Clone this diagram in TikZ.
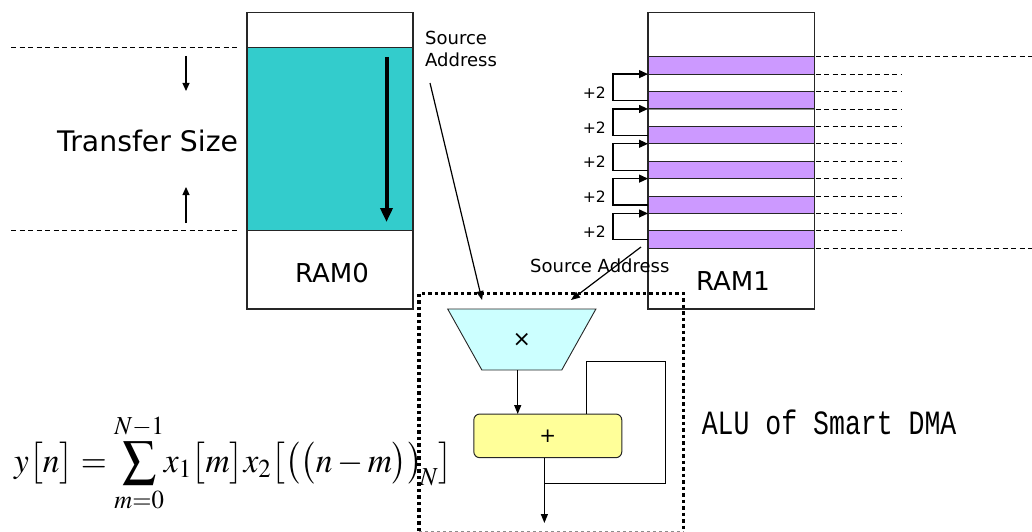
\documentclass[tikz,border=0pt]{standalone}
\usepackage{mathptmx}
\usepackage[no-math]{fontspec}
\setmainfont{DejaVu Sans}
\newfontfamily\alufont{Liberation Mono}
\usetikzlibrary{arrows.meta,shapes.geometric}
\definecolor{ramteal}{HTML}{33CCCC}
\definecolor{rampurple}{HTML}{CC99FF}
\definecolor{mulcyan}{HTML}{CCFFFF}
\definecolor{addyellow}{HTML}{FFFF99}
\begin{document}
\begin{tikzpicture}[x=1pt,y=-1pt,
  arr/.style={-{Triangle[length=9pt,width=7pt]}, line width=1.2pt},
  smallarr/.style={-{Triangle[length=8pt,width=7pt]}, line width=1.2pt},
  ramframe/.style={draw=black!85, line width=1.5pt},
  guide/.style={dash pattern=on 5pt off 3.5pt, line width=0.9pt},
  lbl/.style={inner sep=0pt, font=\fontsize{18}{21}\selectfont},
  plus/.style={inner sep=0pt, anchor=base east, font=\fontsize{15.6}{18}\selectfont},
  ramlbl/.style={inner sep=0pt, anchor=base, font=\fontsize{26}{30}\selectfont},
  alubox/.style={line width=3.5pt, dash pattern=on 3.5pt off 3pt}]
\path[use as bounding box] (0,0) rectangle (1032,532);

% ---------- RAM0 ----------
\fill[white] (247,12.7) rectangle (413,309);
\draw[black!85, line width=1pt, fill=ramteal] (247,47.5) rectangle (413,230.5);
\draw[ramframe] (247,12.7) rectangle (413,309);
\node[ramlbl] (ram0) at (332,282) {RAM0};
\coordinate (t0) at (386.5,57);
\coordinate (t1) at (386.5,222);
\draw[-{Triangle[length=14pt,width=12pt]}, line width=4pt] (t0) -- (t1);

% transfer size guides
\coordinate (g1a) at (11,47.5); \coordinate (g1b) at (240,47.5);
\coordinate (g2a) at (11,230.5); \coordinate (g2b) at (240,230.5);
\draw[guide] (g1a) -- (g1b);
\draw[guide] (g2a) -- (g2b);
\node[inner sep=0pt, anchor=base west, font=\fontsize{28.3}{31}\selectfont] (ts) at (57,151) {Transfer Size};
\coordinate (d0) at (186,56); \coordinate (d1) at (186,91);
\coordinate (u0) at (186,223); \coordinate (u1) at (186,187);
\draw[smallarr] (d0) -- (d1);
\draw[smallarr] (u0) -- (u1);

% ---------- RAM1 ----------
\fill[white] (648,12.7) rectangle (814.5,309);
\foreach \i in {1,3,...,9} {
  \draw[black!45, line width=0.9pt] (648,56.7+\i*17.42) rectangle (814.5,56.7+\i*17.42+17.42);
}
\foreach \i in {0,2,...,10} {
  \draw[black!85, line width=1pt, fill=rampurple] (648,56.7+\i*17.42) rectangle (814.5,56.7+\i*17.42+17.42);
}
\draw[ramframe] (648,12.7) rectangle (814.5,309);
\node[ramlbl] (ram1) at (733,290) {RAM1};

% right guides
\draw[guide] (815.5,56.7) -- (1032,56.7);
\draw[guide] (815.5,248.3) -- (1032,248.3);
\foreach \i in {1,...,10} {
  \draw[guide] (815.5,56.7+\i*17.42) -- (902,56.7+\i*17.42);
}

% +2 brackets
\foreach \k in {0,...,4} {
  \coordinate (bb\k) at (648,100.5+\k*34.84);
  \coordinate (bt\k) at (648,74.1+\k*34.84);
  \draw[-{Triangle[length=9pt,width=8pt]}, line width=1.2pt] (bb\k) -- (613,100.5+\k*34.84) -- (613,74.1+\k*34.84) -- (bt\k);
  \node[plus] (p\k) at (606,98.3+\k*34.84) {+2};
}

% ---------- source address labels ----------
\node[lbl, anchor=base west] (srcA1) at (425,45) {Source};
\node[lbl, anchor=base west] (srcA2) at (425,66.7) {Address};
\node[lbl, anchor=base west] (srcB) at (530,272.7) {Source Address};

% ---------- ALU ----------
\node[trapezium, trapezium left angle=59, trapezium right angle=59,
      shape border rotate=180, trapezium stretches=true,
      minimum width=148.4pt, minimum height=61pt, inner sep=0pt,
      draw=black!85, line width=0.9pt, fill=mulcyan,
      font=\fontsize{22}{24}\selectfont] (mul) at (521.8,339.5) {\raisebox{-4.5pt}{×}};
\node[draw=black!85, line width=1pt, fill=addyellow, rounded corners=6pt,
      minimum width=148pt, minimum height=43.7pt, inner sep=0pt,
      font=\fontsize{20}{22}\selectfont] (add) at (547.8,435.85) {\raisebox{-4pt}{+}};

\coordinate (m1) at (517.7,370);
\coordinate (m2) at (517.7,414);
\draw[arr] (m1) -- (m2);
\coordinate (o1) at (544.4,457.7);
\coordinate (o2) at (544.4,523);
\draw[arr] (o1) -- (o2);
\coordinate (f1) at (586.7,414);
\draw[line width=1pt] (544.4,483.3) -- (665.7,483.3) -- (665.7,361.7) -- (586.7,361.7) -- (f1);

% source arrows
\coordinate (s1) at (430,83);
\coordinate (s1e) at (482,300);
\draw[arr] (s1) -- (s1e);
\coordinate (s2) at (641,247);
\coordinate (s2e) at (571,300);
\draw[arr] (s2) -- (s2e);

% dotted ALU frame
\draw[alubox] (419,531) -- (419,293.3) -- (683.5,293.3) -- (683.5,531);
\draw[black!45, dash pattern=on 3pt off 3pt, line width=0.8pt] (419,531) -- (683.5,531);

\node[inner sep=0pt, anchor=base west] (alu) at (701.6,434.3)
  {\scalebox{0.78}[1]{\alufont\fontsize{34}{38}\selectfont ALU of Smart DMA}};

% ---------- equation ----------
\node[inner sep=0pt, anchor=base west] (eq) at (14,472)
  {\scalebox{0.955}[1]{\fontsize{35}{40}\selectfont $\displaystyle y\bigl[n\bigr]=\sum_{m=0}^{N-1}\!x_1\bigl[m\bigr]x_2\bigl[\bigl(\bigl(n-m\bigr)\bigr)_{\!N}\bigr]$}};
\end{tikzpicture}
\end{document}
